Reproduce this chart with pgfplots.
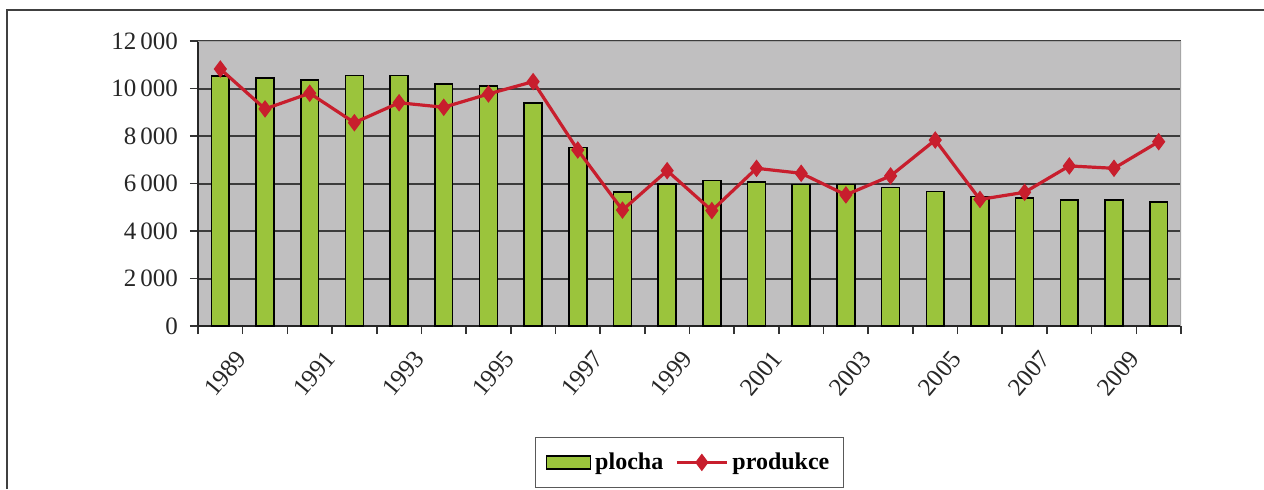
\documentclass[border=0pt]{standalone}
\usepackage{fontspec}
\setmainfont{Liberation Serif}
\usepackage{pgfplots}
\pgfplotsset{compat=1.18}
\definecolor{barg}{RGB}{155,196,60}
\definecolor{linr}{RGB}{200,30,45}
\definecolor{bgg}{RGB}{192,191,192}
\definecolor{gridc}{RGB}{60,60,60}
\pgfplotsset{
  barleg/.style={legend image code/.code={\draw[##1, line width=0.8pt] (0pt,-3.2pt) rectangle (22pt,3.2pt);}},
  lineleg/.style={legend image code/.code={\draw[mark repeat=2, mark phase=2, ##1] plot coordinates {(0pt,0pt) (12.5pt,0pt) (25pt,0pt)};}},
}
\pgfplotstableread{
x plocha produkce
0 10530 10820
1 10430 9140
2 10360 9800
3 10540 8560
4 10540 9400
5 10190 9210
6 10100 9770
7 9400 10290
8 7520 7410
9 5630 4880
10 5980 6540
11 6120 4860
12 6060 6640
13 5965 6430
14 5965 5520
15 5840 6320
16 5660 7830
17 5450 5330
18 5380 5630
19 5310 6740
20 5310 6640
21 5210 7760
}\datatable
\begin{document}
\begin{tikzpicture}[x=1pt,y=1pt]
\useasboundingbox (0,0) rectangle (632,244.5);
\draw[line width=0.9pt, black!75] (3.5,0) -- (3.5,239.5) -- (632,239.5);
\begin{axis}[
 at={(99pt,81.5pt)}, anchor=south west,
 width=491.5pt, height=142.5pt, scale only axis,
 xmin=-0.5, xmax=21.5, ymin=0, ymax=12000,
 axis background/.style={fill=bgg},
 axis x line*=bottom, axis y line*=left,
 axis line style={line width=0.9pt, black!85},
 ytick={0,2000,...,12000},
 ymajorgrids, major grid style={line width=1pt, gridc},
 /pgf/number format/assume math mode=true,
 /pgf/number format/1000 sep={\,},
 scaled y ticks=false,
 tick align=outside,
 major tick length=4pt,
 minor tick length=4pt,
 xtick={0,2,...,20},
 xticklabels={1989,1991,1993,1995,1997,1999,2001,2003,2005,2007,2009},
 minor xtick={-0.5,0.5,...,21.5},
 x tick style={draw=none},
 minor x tick style={draw=black!80, line width=0.8pt},
 y tick style={draw=black!80, line width=0.8pt},
 ticklabel style={font=\fontsize{12.5}{14}\selectfont, text=black!85},
 yticklabel style={xshift=-2.5pt},
 xticklabel style={rotate=50, anchor=north east, inner sep=1pt, yshift=-9pt, xshift=0pt},
 legend style={at={(0.5,-0.389)}, anchor=north, legend columns=2,
   draw=black!65, line width=0.7pt, fill=white,
   font=\bfseries\fontsize{12}{14}\selectfont,
   inner xsep=5pt, inner ysep=5.5pt,
   nodes={inner xsep=2pt},
   /tikz/every even column/.append style={column sep=4pt}},
 legend cell align=left,
]
\addplot[ybar, bar width=0.4, fill=barg, draw=black, line width=0.8pt, barleg]
  table[x=x, y=plocha] {\datatable};
\addlegendentry{plocha}
\addplot[linr, line width=1.6pt, mark=diamond*, mark size=4pt, mark options={fill=linr, draw=linr, line width=0.5pt}, lineleg]
  table[x=x, y=produkce] {\datatable};
\addlegendentry{produkce}
\draw[line width=0.8pt, black!35] (rel axis cs:0,1) -- (rel axis cs:1,1) -- (rel axis cs:1,0);
\end{axis}
\end{tikzpicture}
\end{document}
